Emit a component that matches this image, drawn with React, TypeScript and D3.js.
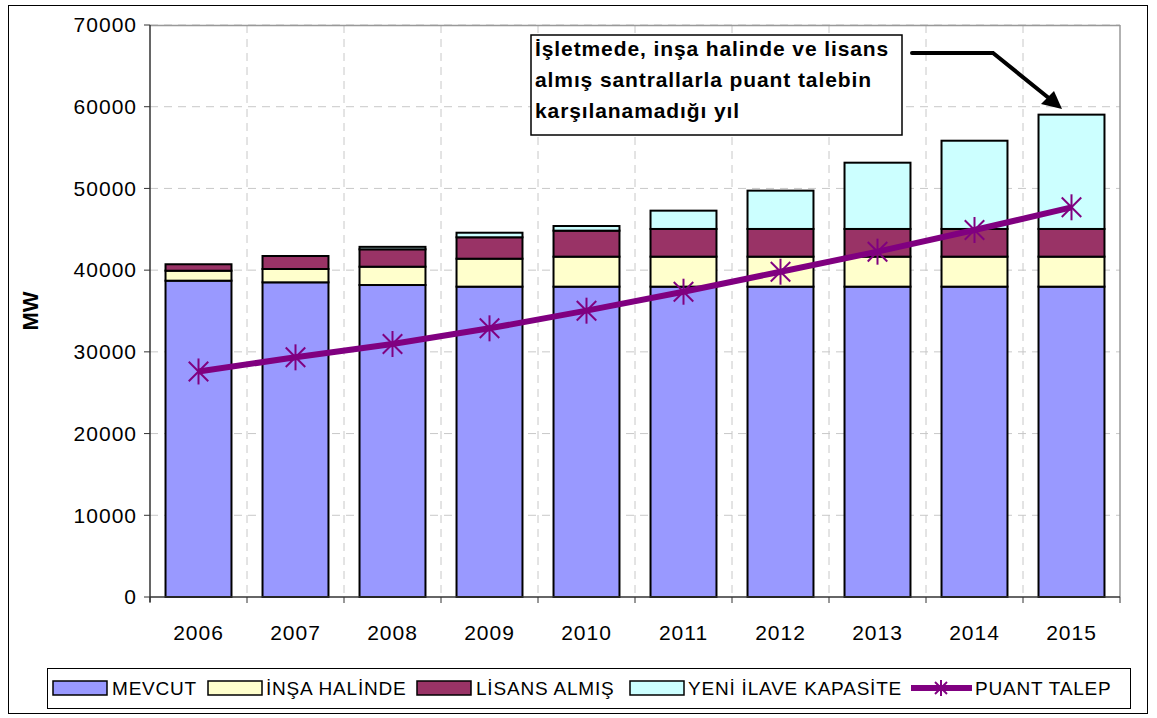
import React from "react";
import * as d3 from "d3";

const years = ["2006", "2007", "2008", "2009", "2010", "2011", "2012", "2013", "2014", "2015"];
const mevcut = [38710, 38510, 38180, 37980, 37980, 37980, 37980, 37980, 37980, 37980];
const insaHalinde = [1220, 1630, 2240, 3420, 3670, 3670, 3670, 3670, 3670, 3670];
const lisansAlmis = [790, 1590, 2130, 2620, 3180, 3390, 3390, 3390, 3390, 3390];
const yeniIlave = [0, 0, 300, 560, 570, 2240, 4690, 8110, 10800, 13990];
const puantTalep = [27600, 29330, 30960, 32880, 35040, 37360, 39810, 42260, 44910, 47690];
const yTicks = [0, 10000, 20000, 30000, 40000, 50000, 60000, 70000];

const seriesNames = ["MEVCUT", "İNŞA HALİNDE", "LİSANS ALMIŞ", "YENİ İLAVE KAPASİTE"];
const seriesColors = ["#9999FF", "#FFFFCC", "#993366", "#CCFFFF"];
const lineName = "PUANT TALEP";
const lineColor = "#800080";
const noteLines = ["İşletmede, inşa halinde ve lisans", "almış santrallarla puant talebin", "karşılanamadığı yıl"];

const FONT = "Arial, 'Liberation Sans', sans-serif";

function Star({ x, y, r }: { x: number; y: number; r: number }) {
  const d = r * 0.75;
  return (
    <g stroke={lineColor} strokeWidth={2}>
      <line x1={x} y1={y - r} x2={x} y2={y + r} />
      <line x1={x - d} y1={y - d} x2={x + d} y2={y + d} />
      <line x1={x - d} y1={y + d} x2={x + d} y2={y - d} />
    </g>
  );
}

export default function App() {
  const W = 1157, H = 718;
  const left = 150, right = 1120, top = 25, bottom = 597;
  const x = d3.scaleBand<string>().domain(years).range([left, right]).paddingInner(0.32).paddingOuter(0.16);
  const xb = d3.scaleBand<string>().domain(years).range([left, right]);
  const y = d3.scaleLinear().domain([0, 70000]).range([bottom, top]);

  const table = years.map((yr, i) => ({
    year: yr,
    s0: mevcut[i],
    s1: insaHalinde[i],
    s2: lisansAlmis[i],
    s3: yeniIlave[i],
  }));
  const stack = d3.stack<any>().keys(["s0", "s1", "s2", "s3"])(table);

  const line = d3
    .line<number>()
    .x((_, i) => (x(years[i]) as number) + x.bandwidth() / 2)
    .y((v) => y(v));

  const legendItems = [
    { x: 53, tx: 112 },
    { x: 208, tx: 266 },
    { x: 417, tx: 476 },
    { x: 630, tx: 688 },
  ];

  return (
    <svg width={W} height={H} style={{ position: "absolute", left: 0, top: 0, background: "#fff" }} fontFamily={FONT}>
      <rect x={0} y={0} width={W} height={H} fill="#fff" />
      <rect x={8.5} y={5.5} width={1139} height={708} fill="none" stroke="#000" strokeWidth={1} />

      {/* gridlines */}
      {yTicks.slice(1).map((t) => (
        <line key={"hg" + t} x1={left} x2={right} y1={y(t)} y2={y(t)} stroke="#C8C8C8" strokeDasharray="8,6" strokeWidth={1} />
      ))}
      {years.slice(1).map((yr) => (
        <line key={"vg" + yr} x1={xb(yr)} x2={xb(yr)} y1={top} y2={bottom} stroke="#C8C8C8" strokeDasharray="8,6" strokeWidth={1} />
      ))}
      <line x1={left} x2={right} y1={top + 0.5} y2={top + 0.5} stroke="#999" strokeWidth={1.5} />
      <line x1={right} x2={right} y1={top} y2={bottom} stroke="#999" strokeWidth={1.5} />

      {/* bars */}
      {stack.map((layer, si) =>
        layer.map((d, i) =>
          d[1] - d[0] > 0 ? (
            <rect
              key={si + "-" + i}
              x={x(years[i])}
              width={x.bandwidth()}
              y={y(d[1])}
              height={y(d[0]) - y(d[1])}
              fill={seriesColors[si]}
              stroke="#000"
              strokeWidth={2}
            />
          ) : null
        )
      )}

      {/* axes */}
      <line x1={left} x2={left} y1={top} y2={bottom + 5} stroke="#333" strokeWidth={1.5} />
      <line x1={left} x2={right} y1={bottom} y2={bottom} stroke="#333" strokeWidth={1.5} />
      {yTicks.map((t) => (
        <g key={"yt" + t}>
          <line x1={left - 6} x2={left} y1={y(t)} y2={y(t)} stroke="#333" strokeWidth={1} />
          <text x={left - 13} y={y(t)} dy="0.35em" textAnchor="end" fontSize={21} letterSpacing={1} fill="#000">
            {t}
          </text>
        </g>
      ))}
      {years.map((yr) => (
        <g key={"xt" + yr}>
          <line x1={xb(yr)} x2={xb(yr)} y1={bottom} y2={bottom + 6} stroke="#333" strokeWidth={1} />
          <text x={(x(yr) as number) + x.bandwidth() / 2} y={640} textAnchor="middle" fontSize={21} letterSpacing={1} fill="#000">
            {yr}
          </text>
        </g>
      ))}
      <line x1={right} x2={right} y1={bottom} y2={bottom + 6} stroke="#333" strokeWidth={1} />
      <text transform={`translate(38,${(top + bottom) / 2}) rotate(-90)`} textAnchor="middle" fontSize={22} fontWeight="bold">
        MW
      </text>

      {/* demand line */}
      <path d={line(puantTalep) || ""} fill="none" stroke={lineColor} strokeWidth={6} strokeLinejoin="round" />
      {puantTalep.map((v, i) => (
        <Star key={"st" + i} x={(x(years[i]) as number) + x.bandwidth() / 2} y={y(v)} r={13} />
      ))}

      {/* annotation */}
      <rect x={531} y={35} width={371} height={100} fill="#fff" stroke="#000" strokeWidth={1.5} />
      {noteLines.map((s, i) => (
        <text key={"n" + i} x={535} y={56 + i * 31} fontSize={21} letterSpacing={0.9} fontWeight="bold" fill="#000">
          {s}
        </text>
      ))}
      <polyline points="912,53 993,53 1050,99" fill="none" stroke="#000" strokeWidth={4} strokeLinecap="round" />
      <polygon points="1062,109 1041,104 1054,91" fill="#000" />

      {/* legend */}
      <rect x={47.5} y={668.5} width={1083} height={40} fill="#fff" stroke="#000" strokeWidth={1} />
      {legendItems.map((it, i) => (
        <g key={"lg" + i}>
          <rect x={it.x} y={681} width={54} height={14} fill={seriesColors[i]} stroke="#000" strokeWidth={1.5} />
          <text x={it.tx} y={688} dy="0.35em" fontSize={19} letterSpacing={0.8} fill="#000">
            {seriesNames[i]}
          </text>
        </g>
      ))}
      <line x1={911} x2={972} y1={688} y2={688} stroke={lineColor} strokeWidth={6} />
      <Star x={941} y={688} r={8} />
      <text x={975} y={688} dy="0.35em" fontSize={19} letterSpacing={0.8} fill="#000">
        {lineName}
      </text>
    </svg>
  );
}
